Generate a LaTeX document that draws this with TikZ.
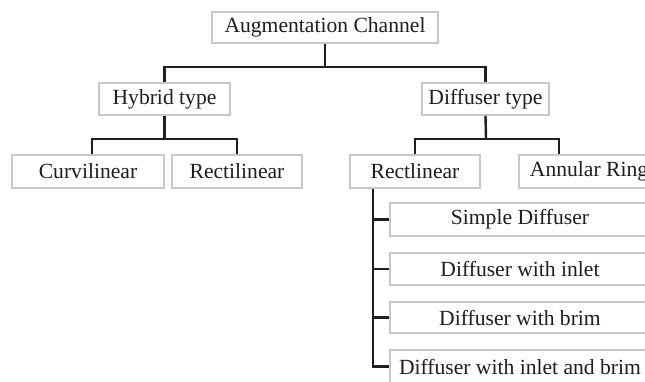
\documentclass[tikz,border=0pt]{standalone}
\usepackage{fontspec}
\setmainfont{Liberation Serif}
\definecolor{boxgray}{RGB}{200,200,200}
\definecolor{linec}{RGB}{30,30,30}
\definecolor{txt}{RGB}{30,30,30}
\begin{document}
\begin{tikzpicture}[x=1pt,y=-1pt,
  box/.style={draw=boxgray, line width=1.5pt, fill=white, inner sep=0pt,
    font=\fontsize{21.6}{24}\selectfont, text=txt, anchor=center},
  link/.style={draw=linec, line width=2.4pt}]
\useasboundingbox (0,0) rectangle (645,381);
\clip (0,0) rectangle (645,381);
\fill[white] (0,0) rectangle (645,381);
% nodes
\node[box, minimum width=226pt, minimum height=31pt] (aug) at (325,27.5) {Augmentation Channel};
\node[box, minimum width=131pt, minimum height=32pt] (hyb) at (164.5,99) {Hybrid type};
\node[box, minimum width=127pt, minimum height=32pt] (dif) at (485.5,99) {Diffuser type};
\node[box, minimum width=152pt, minimum height=33pt] (cur) at (88,171.5) {Curvilinear};
\node[box, minimum width=130pt, minimum height=33pt] (rect) at (237,171.5) {Rectilinear};
\node[box, minimum width=130pt, minimum height=33pt] (rectl) at (415,171.5) {Rectlinear};
\node[box, minimum width=140pt, minimum height=33pt] (ann) at (589,171.5) {Annular Ring};
\node[box, minimum width=260pt, minimum height=33pt] (sd) at (520,219.5) {Simple Diffuser};
\node[box, minimum width=260pt, minimum height=32pt] (dwi) at (520,269) {Diffuser with inlet};
\node[box, minimum width=260pt, minimum height=31pt] (dwb) at (520,317.5) {Diffuser with brim};
\node[box, minimum width=260pt, minimum height=33pt] (dwib) at (520,366.5) {Diffuser with inlet and brim};
% connectors
\coordinate (j1) at (325,67);
\coordinate (j2) at (164.5,139);
\coordinate (j3) at (486,139);
\draw[link] (aug.south) -- (j1);
\draw[link] (hyb.north) |- (j1) -| (dif.north);
\draw[link] (hyb.south) -- (j2);
\draw[link] ([xshift=4pt]cur.north) |- (j2) -| (rect.north);
\draw[link] (dif.south) -- (j3);
\draw[link] (rectl.north) |- (j3) -| ([xshift=-30pt]ann.north);
\coordinate (r0) at ([xshift=-42pt]rectl.south);
\draw[link] (r0) |- (dwib.west);
\draw[link] (r0 |- sd.west) -- (sd.west);
\draw[link] (r0 |- dwi.west) -- (dwi.west);
\draw[link] (r0 |- dwb.west) -- (dwb.west);
\end{tikzpicture}
\end{document}
